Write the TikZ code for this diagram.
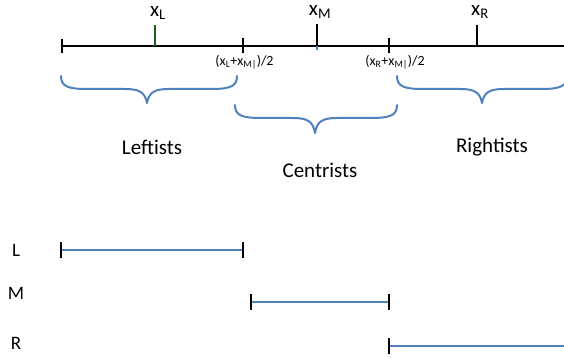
\documentclass[tikz,border=0pt]{standalone}
\usepackage{fontspec}
\setmainfont{Carlito}
\definecolor{bl}{HTML}{4F81BD}
\definecolor{dg}{HTML}{1E5B1E}
\newcommand{\mybracepath}[6]{% x0, x1, tip x, y top, y flat, y tip
  \draw[bracecurve] (#1,#4) .. controls (#1,{#5-3}) and ({#1+6},#5) .. ({#1+26},#5)
    -- ({#3-22},#5) .. controls ({#3-8},#5) and ({#3-2},{#5+3}) .. (#3,#6)
    .. controls ({#3+2},{#5+3}) and ({#3+8},#5) .. ({#3+22},#5)
    -- ({#2-26},#5) .. controls ({#2-6},#5) and (#2,{#5-3}) .. (#2,#4);}
\begin{document}
\begin{tikzpicture}[x=1pt,y=-1pt,
  axisline/.style={line width=1.8pt,black},
  tickmark/.style={line width=2pt,black},
  bracecurve/.style={line width=2pt,color=bl,line cap=round,line join=round},
  seg/.style={line width=2.2pt,color=bl},
  biglbl/.style={font=\fontsize{21}{25}\selectfont,inner sep=0pt},
  rowlbl/.style={font=\fontsize{19}{23}\selectfont,inner sep=0pt},
  smalllbl/.style={font=\fontsize{14}{16}\selectfont,inner sep=0pt},
]
\useasboundingbox (0,0) rectangle (564,358);
% main axis
\coordinate (a0) at (62,46);
\coordinate (a1) at (564,46);
\draw[axisline] (a0) -- (a1);
% ticks
\coordinate (t0a) at (62,39); \coordinate (t0b) at (62,53);
\draw[tickmark] (t0a) -- (t0b);
\coordinate (tLa) at (155,25); \coordinate (tLb) at (155,46);
\draw[tickmark,color=dg] (tLa) -- (tLb);
\coordinate (m1a) at (243,38); \coordinate (m1b) at (243,53);
\draw[tickmark] (m1a) -- (m1b);
\coordinate (tMa) at (317,24); \coordinate (tMb) at (317,46); \coordinate (tMc) at (317,50);
\draw[tickmark] (tMa) -- (tMb);
\draw[tickmark,color=bl] (tMb) -- (tMc);
\coordinate (m2a) at (389,38); \coordinate (m2b) at (389,53);
\draw[tickmark] (m2a) -- (m2b);
\coordinate (tRa) at (477,25); \coordinate (tRb) at (477,46);
\draw[tickmark] (tRa) -- (tRb);
% top labels
\node[biglbl] (xL) at (158,13) {x\textsubscript{L}};
\node[biglbl] (xM) at (320,12) {x\textsubscript{M}};
\node[biglbl] (xR) at (480,12) {x\textsubscript{R}};
\node[smalllbl] (mid1) at (244.5,62) {(x\textsubscript{L}+x\textsubscript{M|})/2};
\node[smalllbl] (mid2) at (395,62) {(x\textsubscript{R}+x\textsubscript{M|})/2};
% braces
\mybracepath{61}{237}{147}{76}{89}{103}
\mybracepath{235}{397}{315}{105}{118}{133}
\mybracepath{397}{567}{482}{76}{89}{103}
\node[biglbl] (left) at (152,147) {Leftists};
\node[biglbl] (cent) at (320,170) {Centrists};
\node[biglbl] (right) at (492,147) {Rightists};
% rows
\node[rowlbl] (rL) at (16,250) {L};
\node[rowlbl] (rM) at (16,293) {M};
\node[rowlbl] (rR) at (16,343) {R};
\coordinate (L0) at (61,250); \coordinate (L1) at (243,250);
\coordinate (M0) at (251,302); \coordinate (M1) at (389,302);
\coordinate (R0) at (389,346); \coordinate (R1) at (564,346);
\draw[seg] (L0) -- (L1);
\draw[seg] (M0) -- (M1);
\draw[seg] (R0) -- (R1);
\foreach \p in {L0,L1,M0,M1,R0}{
  \draw[tickmark] ([yshift=-8pt]\p) -- ([yshift=8pt]\p);
}
\end{tikzpicture}
\end{document}
